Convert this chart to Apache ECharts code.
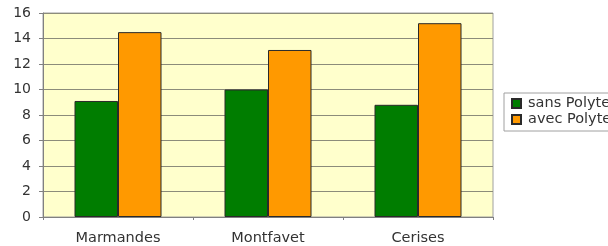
<!DOCTYPE html>
<html><head><meta charset="utf-8">
<script src="https://cdn.jsdelivr.net/npm/echarts@6/dist/echarts.min.js"></script>
<style>html,body{margin:0;padding:0;background:#fff}#c{width:608px;height:246px}</style>
</head><body><div id="c"></div>
<script>
var categories = ['Marmandes', 'Montfavet', 'Cerises'];
var sansValues = [9.1, 10.0, 8.8];
var avecValues = [14.5, 13.1, 15.2];
var seriesNames = ['sans Polytex', 'avec Polytex'];
var yTicks = [0, 2, 4, 6, 8, 10, 12, 14, 16];

var chart = echarts.init(document.getElementById('c'));
var font = 'DejaVu Sans, sans-serif';
chart.setOption({
  animation: false,
  backgroundColor: '#ffffff',
  grid: {left: 43, right: 115, top: 13, bottom: 29, show: true, backgroundColor: '#ffffcc', borderColor: '#a0a0a0', borderWidth: 1},
  legend: {
    orient: 'vertical', left: 504, top: 93,
    itemWidth: 9, itemHeight: 9, itemGap: 1,
    padding: [3, 7, 4, 7],
    borderColor: '#a0a0a0', borderWidth: 1, backgroundColor: '#ffffff',
    textStyle: {fontFamily: font, fontSize: 14.5, color: '#333', padding: [0, 0, 0, 2]},
    data: seriesNames.map(function(n){return {name: n, icon: 'rect'};})
  },
  xAxis: {
    type: 'category', data: categories,
    axisLine: {lineStyle: {color: '#808080'}},
    axisTick: {show: true, length: 3, lineStyle: {color: '#808080'}},
    axisLabel: {fontFamily: font, fontSize: 14.5, color: '#333', margin: 14}
  },
  yAxis: {
    type: 'value', min: 0, max: 16, interval: 2,
    axisLine: {show: true, lineStyle: {color: '#808080'}},
    axisTick: {show: true, length: 4, lineStyle: {color: '#808080'}},
    axisLabel: {fontFamily: font, fontSize: 14, color: '#333', margin: 12,
      formatter: function(v){ return yTicks.indexOf(v) >= 0 ? String(v) : ''; }},
    splitLine: {lineStyle: {color: '#8c8c7a', width: 1}}
  },
  series: [
    {name: seriesNames[0], type: 'bar', data: sansValues, barWidth: '29%', barGap: '0%',
      itemStyle: {color: '#007d00', borderColor: '#2a2a2a', borderWidth: 1}},
    {name: seriesNames[1], type: 'bar', data: avecValues, barWidth: '29%', barGap: '0%',
      itemStyle: {color: '#ff9900', borderColor: '#2a2a2a', borderWidth: 1}}
  ]
});
</script></body></html>
